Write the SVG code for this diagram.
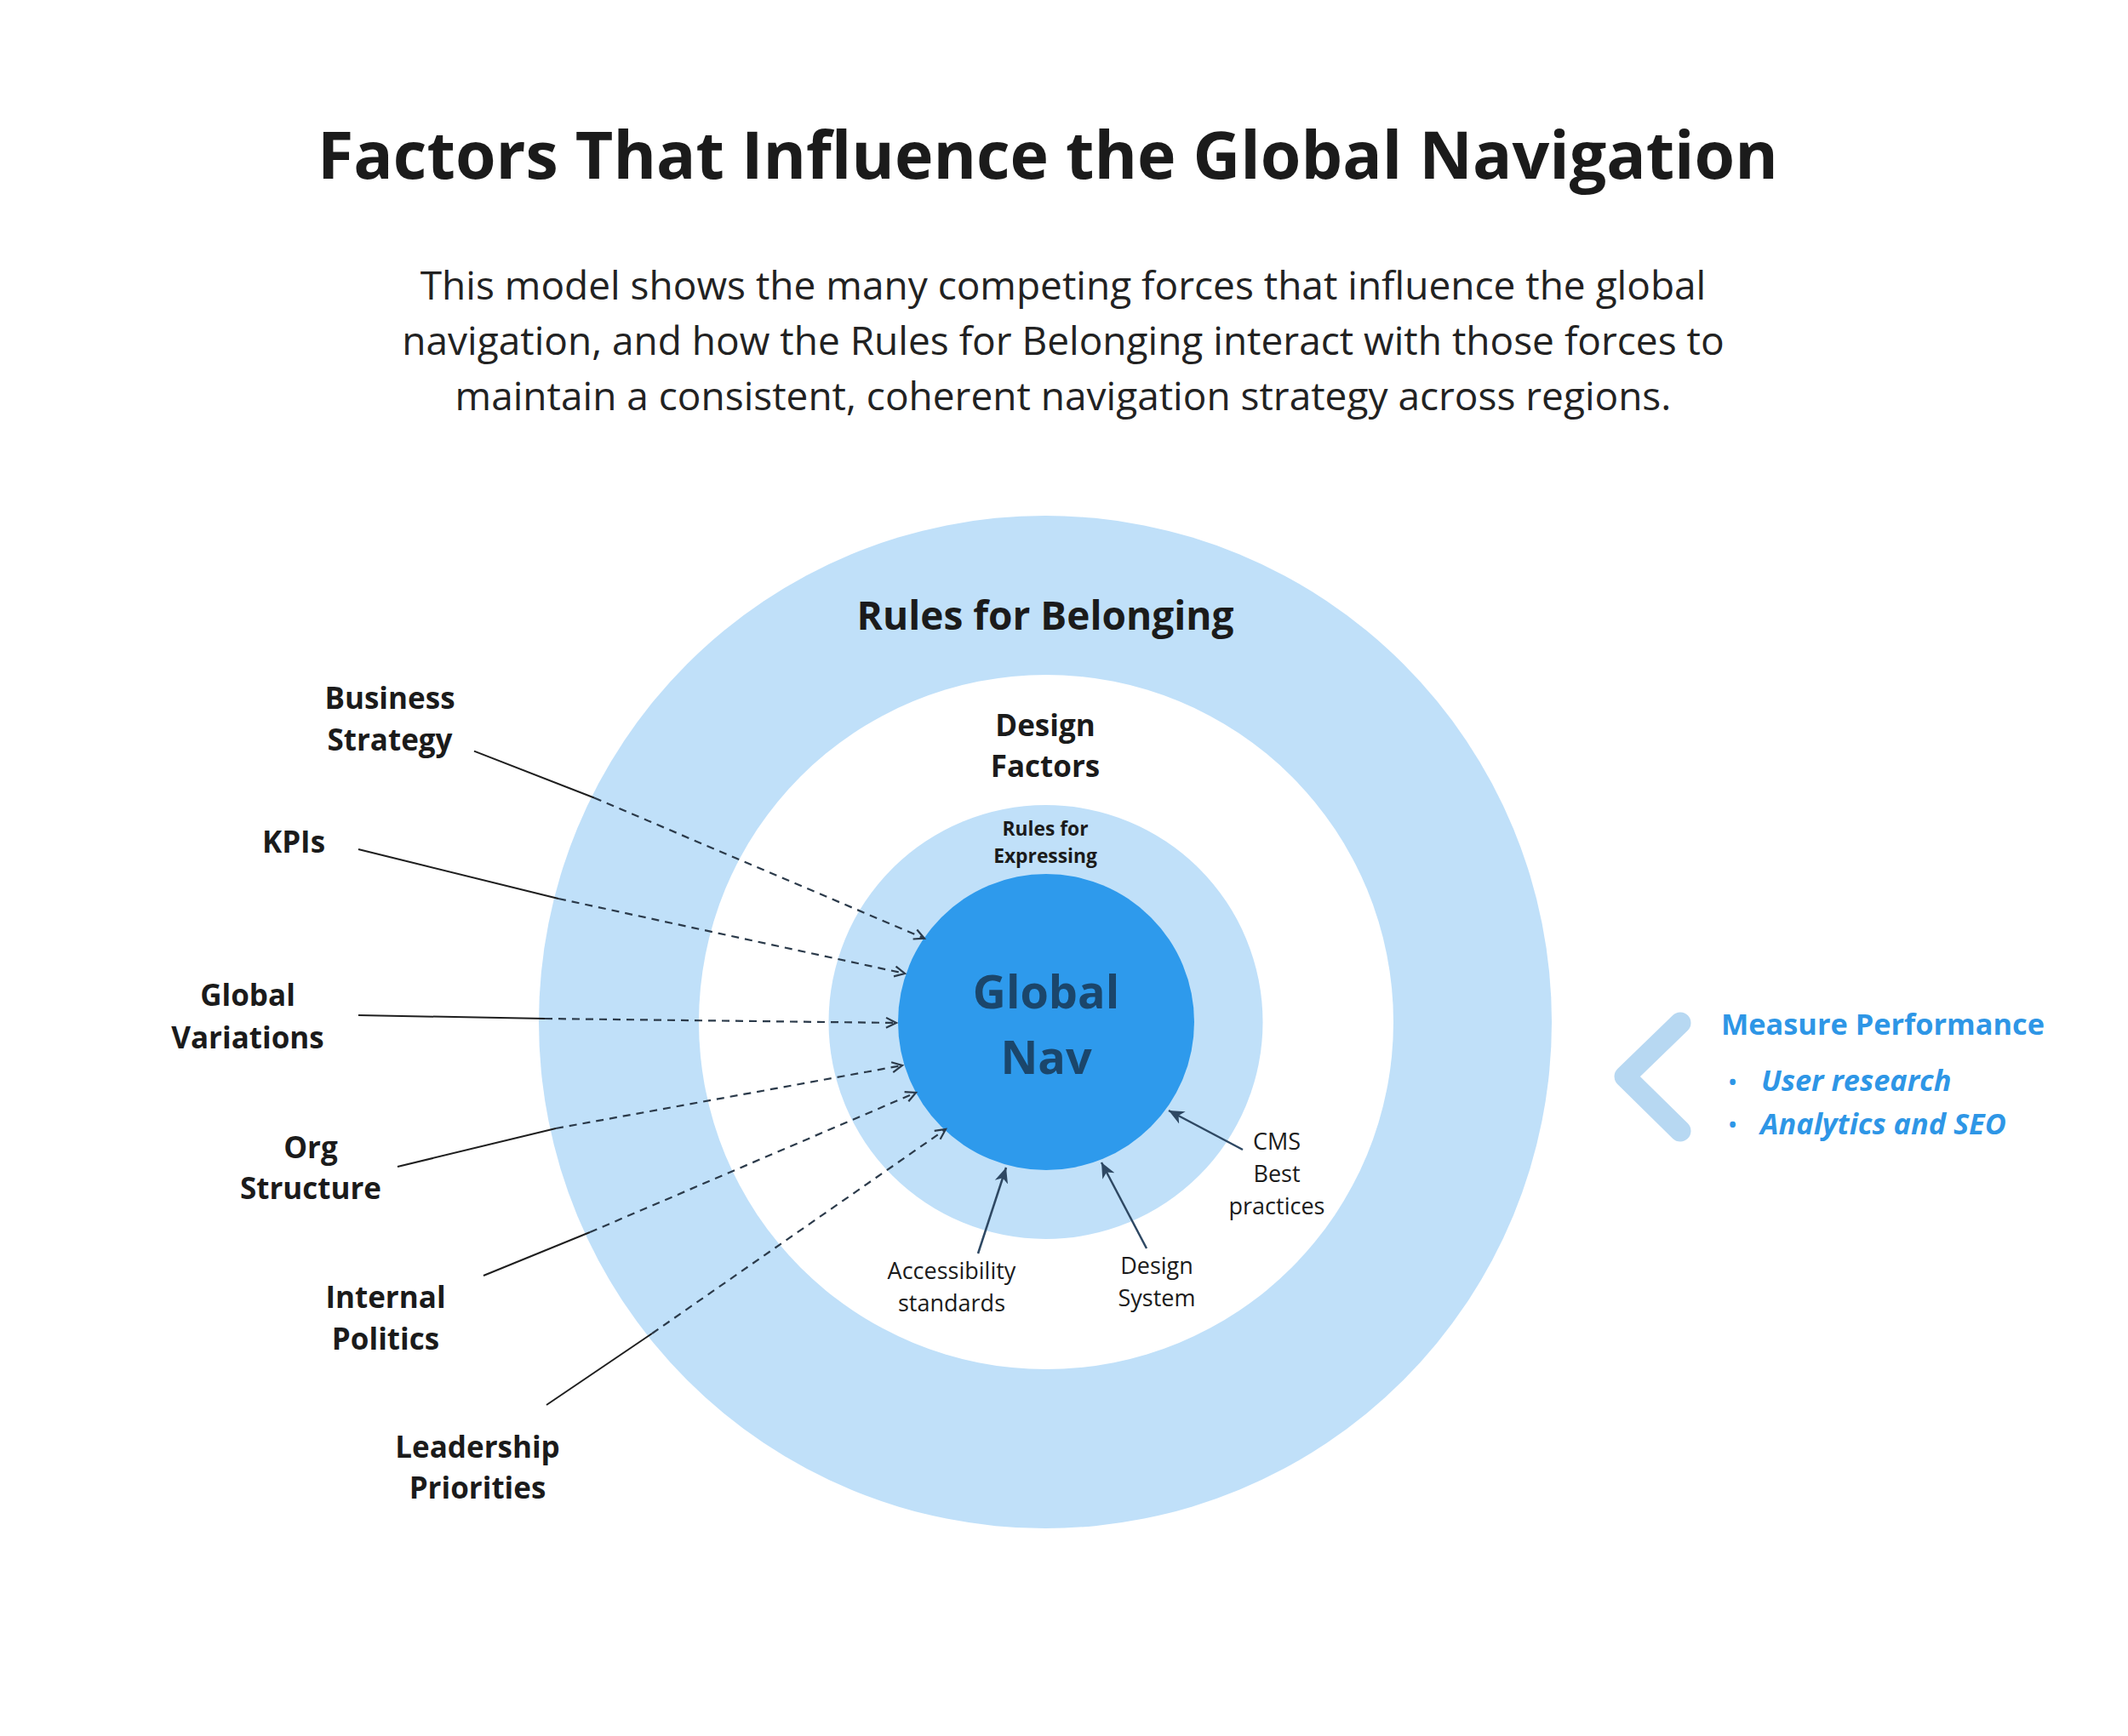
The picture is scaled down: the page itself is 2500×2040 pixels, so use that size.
<svg xmlns="http://www.w3.org/2000/svg" width="2500" height="2040" viewBox="0 0 2500 2040">
<defs>
<style>
text{font-family:"Open Sans","Liberation Sans",sans-serif;}
.title{font-size:77px;font-weight:700;fill:#1b1b1b;text-anchor:middle;}
.sub{font-size:46px;font-weight:400;fill:#222;text-anchor:middle;}
.lbl{font-size:35px;font-weight:700;fill:#1b1b1b;text-anchor:middle;}
.small{font-size:27px;font-weight:400;fill:#1b1b1b;text-anchor:middle;}
.ring{fill:#c0e0f9;}
.lead{stroke:#1e1e1e;stroke-width:2;fill:none;}
.dash{stroke:#2b3a4a;stroke-width:2.2;fill:none;stroke-dasharray:9 7;marker-end:url(#open);}
.solid{stroke:#2e4863;stroke-width:2.5;fill:none;marker-end:url(#filled);}
.mp{fill:#2e96e6;font-weight:700;}
</style>
<marker id="open" markerUnits="userSpaceOnUse" markerWidth="16" markerHeight="16" refX="13" refY="7" orient="auto" viewBox="0 0 16 14">
<path d="M1,1 L13,7 L1,13" fill="none" stroke="#2b3a4a" stroke-width="2.2"/>
</marker>
<marker id="filled" markerUnits="userSpaceOnUse" markerWidth="20" markerHeight="18" refX="18" refY="8" orient="auto" viewBox="0 0 20 16">
<path d="M0,0 L18,8 L0,16 L5,8 Z" fill="#2e4863"/>
</marker>
</defs>
<rect width="2500" height="2040" fill="#fff"/>

<g id="title">
<text class="title" x="1231" y="210">Factors That Influence the Global Navigation</text>
</g>
<g id="subtitle">
<text class="sub" x="1249" y="352">This model shows the many competing forces that influence the global</text>
<text class="sub" x="1249" y="417">navigation, and how the Rules for Belonging interact with those forces to</text>
<text class="sub" x="1249" y="482">maintain a consistent, coherent navigation strategy across regions.</text>
</g>

<g id="rules-for-belonging">
<circle class="ring" cx="1228" cy="1201" r="595"/>
<text class="lbl" x="1228" y="740" style="font-size:46px">Rules for Belonging</text>
</g>
<g id="design-factors">
<circle cx="1229" cy="1201" r="408" fill="#fff"/>
<text class="lbl" x="1228" y="865">Design</text>
<text class="lbl" x="1228" y="913">Factors</text>
</g>
<g id="rules-for-expressing">
<circle class="ring" cx="1228.5" cy="1201" r="255"/>
<text class="lbl" x="1228" y="982" style="font-size:22.8px">Rules for</text>
<text class="lbl" x="1228" y="1014" style="font-size:22.8px">Expressing</text>
</g>
<g id="global-nav">
<circle cx="1229" cy="1201" r="174" fill="#2e9aec"/>
<text class="lbl" x="1229" y="1185" style="font-size:54px;fill:#1b466b">Global</text>
<text class="lbl" x="1229" y="1262" style="font-size:54px;fill:#1b466b">Nav</text>
</g>

<g id="connectors">
<polyline class="lead" points="557,882.6 698,937.5"/>
<polyline class="dash" points="698,937.5 1086,1102.7"/>
<polyline class="lead" points="421,998 656,1056"/>
<polyline class="dash" points="656,1056 1063,1144"/>
<polyline class="lead" points="421,1193 640,1197"/>
<polyline class="dash" points="640,1197 1053,1202"/>
<polyline class="lead" points="467,1371 653,1326"/>
<polyline class="dash" points="653,1326 1060,1252"/>
<polyline class="lead" points="568,1499 693,1448"/>
<polyline class="dash" points="693,1448 1076,1284"/>
<polyline class="lead" points="642,1651 766,1567"/>
<polyline class="dash" points="766,1567 1111,1327"/>
<line class="solid" x1="1149" y1="1473" x2="1182" y2="1372"/>
<line class="solid" x1="1347" y1="1467" x2="1294" y2="1366"/>
<line class="solid" x1="1460" y1="1351" x2="1373" y2="1305"/>
</g>

<g id="business-strategy"><text class="lbl" x="458" y="833">Business</text><text class="lbl" x="458" y="882">Strategy</text></g>
<g id="kpis"><text class="lbl" x="345" y="1002">KPIs</text></g>
<g id="global-variations"><text class="lbl" x="291" y="1182">Global</text><text class="lbl" x="291" y="1232">Variations</text></g>
<g id="org-structure"><text class="lbl" x="365" y="1361">Org</text><text class="lbl" x="365" y="1409">Structure</text></g>
<g id="internal-politics"><text class="lbl" x="453" y="1537">Internal</text><text class="lbl" x="453" y="1586">Politics</text></g>
<g id="leadership-priorities"><text class="lbl" x="561" y="1713">Leadership</text><text class="lbl" x="561" y="1761">Priorities</text></g>

<g id="accessibility-standards"><text class="small" x="1118" y="1503">Accessibility</text><text class="small" x="1118" y="1541">standards</text></g>
<g id="design-system"><text class="small" x="1359" y="1497">Design</text><text class="small" x="1359" y="1535">System</text></g>
<g id="cms-best-practices"><text class="small" x="1500" y="1351">CMS</text><text class="small" x="1500" y="1389">Best</text><text class="small" x="1500" y="1427">practices</text></g>

<g id="measure-performance">
<polyline points="1974,1202 1909,1265 1974,1329" fill="none" stroke="#b7d8f2" stroke-width="25" stroke-linecap="round" stroke-linejoin="round"/>
<text class="mp" x="2022" y="1216" style="font-size:34.3px">Measure Performance</text>
<text class="mp" x="2031" y="1280" style="font-size:24px">•</text>
<text class="mp" x="2069" y="1282" style="font-size:34.3px;font-style:italic">User research</text>
<text class="mp" x="2031" y="1330" style="font-size:24px">•</text>
<text class="mp" x="2068" y="1333" style="font-size:34.3px;font-style:italic">Analytics and SEO</text>
</g>
</svg>
